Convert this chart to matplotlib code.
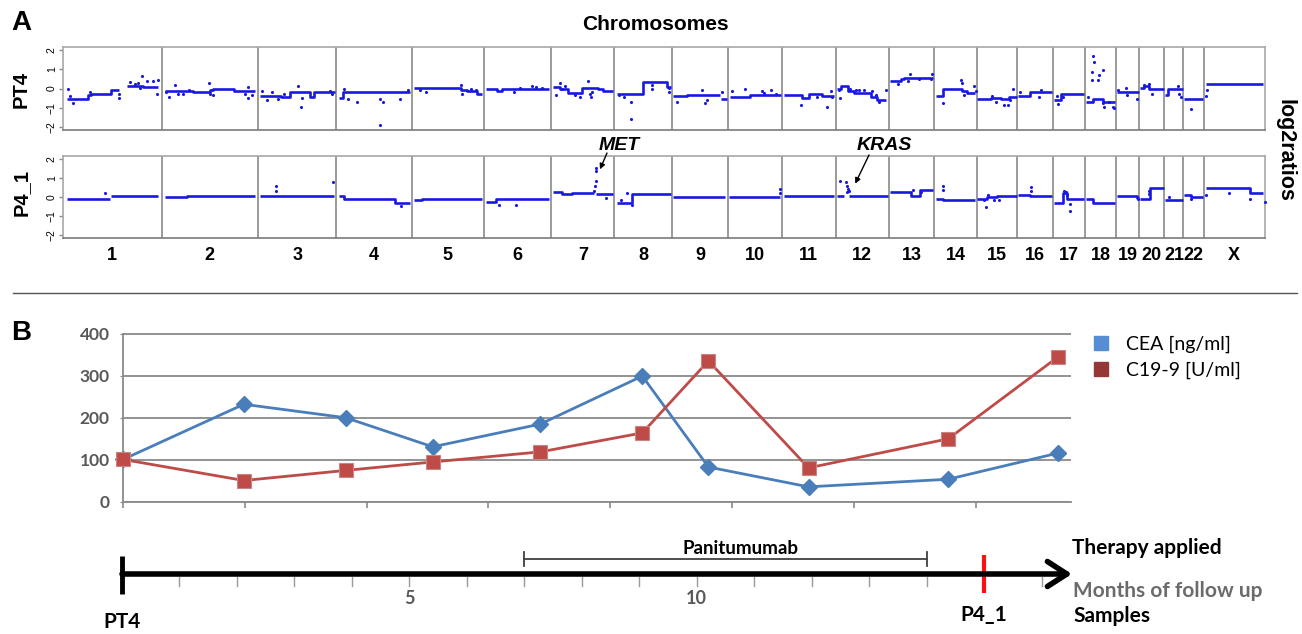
import numpy as np
import matplotlib
matplotlib.use("Agg")
import matplotlib.pyplot as plt
from matplotlib.lines import Line2D

# ---- panel A: chromosome sizes (Mb) and segmented log2 ratios ----
chrom_names = [str(i) for i in range(1, 23)] + ["X"]
chrom_len_mb = [249, 243, 198, 191, 181, 171, 159, 146, 141, 136, 135, 134,
                115, 107, 103, 90, 81, 78, 59, 63, 48, 51, 155]

# (chromosome, start fraction, end fraction, log2 ratio)
pt4_segments = [
    ("1", .04, .25, -.56), ("1", .25, .28, -.35), ("1", .28, .49, -.29), ("1", .49, .57, -.1),
    ("1", .65, .81, .12), ("1", .81, .96, .07),
    ("2", .03, .33, -.13), ("2", .33, .5, -.18), ("2", .5, .53, -.1), ("2", .53, .75, 0.0), ("2", .75, .97, -.12),
    ("3", .03, .3, -.37), ("3", .3, .41, -.42), ("3", .41, .67, -.2), ("3", .67, .71, -.42), ("3", .71, .98, -.2),
    ("4", .03, .09, -.48), ("4", .09, .97, -.2),
    ("5", .03, .68, .05), ("5", .68, .77, -.08), ("5", .77, .9, -.15), ("5", .9, .98, -.3),
    ("6", .03, .2, -.03), ("6", .2, .27, -.12), ("6", .27, .97, -.02),
    ("7", .03, .14, .1), ("7", .14, .27, -.05), ("7", .27, .49, -.25), ("7", .49, .74, .03),
    ("7", .74, .81, 0.0), ("7", .81, .98, -.15),
    ("8", .04, .5, -.26), ("8", .5, .91, .34), ("8", .91, .97, .1),
    ("9", .02, .26, -.38), ("9", .26, .85, -.34), ("9", .87, .98, -.55),
    ("10", .03, .4, -.42), ("10", .4, .98, -.36),
    ("11", .04, .38, -.34), ("11", .38, .5, -.5), ("11", .5, .75, -.3), ("11", .75, .98, -.4),
    ("12", .03, .1, -.05), ("12", .1, .23, .12), ("12", .23, .35, -.12), ("12", .35, .67, -.25),
    ("12", .67, .79, -.42), ("12", .79, .95, -.6),
    ("13", .04, .28, .4), ("13", .28, .34, .47), ("13", .34, .97, .56),
    ("14", .04, .2, -.38), ("14", .2, .65, -.05), ("14", .65, .78, -.12), ("14", .78, .97, -.22),
    ("15", .02, .35, -.56), ("15", .35, .6, -.48), ("15", .6, .8, -.56), ("15", .8, .98, -.43),
    ("16", .02, .34, -.38), ("16", .34, .98, -.19),
    ("17", .02, .25, -.6), ("17", .25, .98, -.27),
    ("18", .03, .25, -.68), ("18", .25, .57, -.55), ("18", .57, .97, -.7),
    ("19", .04, .98, -.17),
    ("20", .03, .2, .05), ("20", .2, .4, .12), ("20", .4, .97, 0.0),
    ("21", .05, .2, -.34), ("21", .2, .97, -.05),
    ("22", .03, .97, -.56),
    ("X", .04, .97, .22),
]
# (chromosome, fraction, log2 ratio)
pt4_points = [
    ("1", .05, -.05), ("1", .07, -.39), ("1", .10, -.77), ("1", .27, -.17), ("1", .57, -.31), ("1", .57, -.51),
    ("1", .68, .34), ("1", .73, .22), ("1", .76, .29), ("1", .80, .63), ("1", .85, .39), ("1", .91, .39),
    ("1", .96, .43), ("1", .95, -.26), ("1", .78, .05),
    ("2", .05, -.17), ("2", .08, -.43), ("2", .14, .17), ("2", .17, -.26), ("2", .22, -.31), ("2", .28, -.09),
    ("2", .49, .26), ("2", .50, -.26), ("2", .53, -.34), ("2", .9, .09), ("2", .9, -.51), ("2", .94, -.34),
    ("2", .87, -.31),
    ("3", .05, -.12), ("3", .11, -.6), ("3", .18, -.17), ("3", .26, -.55), ("3", .33, -.29), ("3", .51, .12),
    ("3", .55, -.94), ("3", .56, -.51), ("3", .92, -.12), ("3", .94, -.31),
    ("4", .1, -.02), ("4", .16, -.53), ("4", .27, -.68), ("4", .58, -.55), ("4", .58, -1.88), ("4", .62, -.72),
    ("4", .84, -.56), ("4", .95, -.09),
    ("5", .11, -.09), ("5", .2, -.2), ("5", .68, .17), ("5", .7, -.26), ("5", .82, -.05), ("5", .89, -.09),
    ("6", .44, -.17), ("6", .54, .05), ("6", .71, .12), ("6", .77, .09), ("6", .86, .05),
    ("7", .07, -.34), ("7", .14, .29), ("7", .17, -.05), ("7", .22, .12), ("7", .38, -.34), ("7", .46, -.46),
    ("7", .58, .38), ("7", .62, -.43), ("7", .61, -.26), ("7", .65, -.17),
    ("8", .08, -.34), ("8", .17, -.43), ("8", .28, -.68), ("8", .28, -1.59), ("8", .65, .17), ("8", .65, 0.0),
    ("8", .94, .05), ("8", .94, -.17),
    ("9", .08, -.68), ("9", .53, -.09), ("9", .62, -.6), ("9", .59, -.74), ("9", .89, -.17),
    ("10", .07, -.12), ("10", .32, -.05), ("10", .63, -.12), ("10", .66, -.22), ("10", .8, -.09), ("10", .88, -.31),
    ("11", .35, -.85), ("11", .66, -.43), ("11", .84, -.94), ("11", .91, -.12), ("11", .94, -.43),
    ("12", .06, -.09), ("12", .08, -.48), ("12", .28, 0.0), ("12", .38, -.09), ("12", .44, -.09), ("12", .54, -.09),
    ("12", .68, -.12), ("12", .76, -.34), ("12", .82, -.68), ("12", .95, -.09),
    ("13", .2, .22), ("13", .42, .38), ("13", .46, .77), ("13", .67, .48), ("13", .93, .48), ("13", .96, .74),
    ("14", .2, -.77), ("14", .63, .43), ("14", .66, .26), ("14", .7, -.34), ("14", .94, .12), ("14", .98, -.14),
    ("15", .39, -.39), ("15", .48, -.68), ("15", .68, -.85), ("15", .77, -.85), ("15", .89, 0.0), ("15", .81, -.6),
    ("16", .06, -.17), ("16", .62, -.46), ("16", .67, -.09),
    ("17", .12, -.39), ("17", .15, -.82), ("17", .3, -.43),
    ("18", .09, -.46), ("18", .22, .85), ("18", .23, .43), ("18", .27, 1.68), ("18", .28, 1.37), ("18", .43, .46),
    ("18", .46, .68), ("18", .59, .94), ("18", .57, -.77), ("18", .62, -.94), ("18", .78, -.68), ("18", .89, -.97),
    ("18", .95, -1.03),
    ("19", .07, -.09), ("19", .42, .05), ("19", .49, -.34), ("19", .89, -.56),
    ("20", .19, .17), ("20", .39, .22), ("20", .49, -.26),
    ("21", .74, .12), ("21", .78, -.26), ("21", .86, -.43),
    ("22", .37, -1.06),
    ("X", .04, -.39), ("X", .05, -.09),
]

p41_segments = [
    ("1", .04, .48, -.1), ("1", .49, .96, .07),
    ("2", .03, .26, -.02), ("2", .26, .53, .07), ("2", .53, .64, .04), ("2", .64, .97, .07),
    ("3", .03, .97, .04),
    ("4", .03, .1, .05), ("4", .1, .77, -.12), ("4", .77, .97, -.3),
    ("5", .03, .14, -.14), ("5", .14, .98, -.1),
    ("6", .03, .18, -.25), ("6", .18, .96, -.12),
    ("7", .03, .17, .26), ("7", .17, .33, .17), ("7", .33, .68, .2), ("7", .7, .98, .14),
    ("8", .04, .31, -.3), ("8", .31, .97, .17),
    ("9", .02, .95, 0.0),
    ("10", .02, .97, .02),
    ("11", .04, .97, .03),
    ("12", .03, .16, .05), ("12", .25, .98, .03),
    ("13", .04, .5, .26), ("13", .5, .68, .05), ("13", .68, .97, .38),
    ("14", .04, .2, -.08), ("14", .2, .97, -.14),
    ("15", .02, .25, -.08), ("15", .25, .5, -.02), ("15", .5, .98, .05),
    ("16", .02, .34, .08), ("16", .34, .98, .05),
    ("17", .02, .3, -.3), ("17", .3, .45, .2), ("17", .45, .98, -.12),
    ("18", .03, .25, -.12), ("18", .25, .97, -.3),
    ("19", .04, .9, .03), ("19", .9, .98, -.05),
    ("20", .03, .43, -.12), ("20", .43, .97, .48),
    ("21", .03, .97, -.14),
    ("22", .03, .37, .1), ("22", .37, .97, 0.0),
    ("X", .04, .76, .46), ("X", .76, .97, .2),
]
p41_points = [
    ("1", .43, .22),
    ("3", .23, .6), ("3", .23, .31), ("3", .96, .8),
    ("4", .86, -.46),
    ("6", .22, -.41), ("6", .47, -.41),
    ("7", .68, .34), ("7", .69, .6), ("7", .7, .85), ("7", .7, 1.37), ("7", .7, 1.54), ("7", .87, -.03),
    ("8", .11, -.14), ("8", .22, .21), ("8", .31, -.41),
    ("10", .96, .43), ("10", .96, .21),
    ("12", .09, .85), ("12", .19, .77), ("12", .21, .6), ("12", .23, .43), ("12", .22, .26), ("12", .25, .31),
    ("13", .53, .38), ("13", .71, .26),
    ("14", .2, .6), ("14", .2, .38),
    ("15", .18, -.17), ("15", .23, -.51), ("15", .27, .09), ("15", .43, -.14), ("15", .56, -.14),
    ("16", .39, .51), ("16", .39, .34),
    ("17", .33, .29), ("17", .4, .26), ("17", .44, .09), ("17", .54, -.38), ("17", .54, -.73),
    ("19", .92, -.09),
    ("20", .39, .17), ("20", .39, .31),
    ("21", .26, 0.0),
    ("22", .37, -.09),
    ("X", .04, .09), ("X", .41, .21), ("X", .76, -.09), ("X", 1.0, -.26),
]
gene_labels = [("MET", "7", 0.77, 1.45), ("KRAS", "12", 0.37, 0.70)]

# ---- panel B: tumour markers and follow-up ----
sample_days = [0, 64, 118, 164, 221, 275, 310, 363, 437, 495]
cea = [101, 232, 200, 131, 185, 299, 83, 36, 54, 116]
ca199 = [101, 51, 75, 95, 119, 164, 335, 81, 150, 344]
therapy = ("Panitumumab", 7, 14)          # months
samples = [("PT4", 0), ("P4_1", 15)]      # months
month_labels = [5, 10]
follow_up_end = 16.53

W, H = 1302, 634
BLUE = "#1818e0"
GRID = "#8a8a8a"
FA = "Liberation Sans"
FB = "Lato"


def fx(x):
    return x / W


def fy(y):
    return 1 - y / H


def box(x0, y0, x1, y1):
    return [fx(x0), fy(y1), fx(x1) - fx(x0), fy(y0) - fy(y1)]


offsets = np.concatenate([[0], np.cumsum(chrom_len_mb)])


def gpos(name, frac):
    i = chrom_names.index(name)
    return offsets[i] + frac * chrom_len_mb[i]


def draw_profile(ax, segments, points):
    runs = []
    last = None
    for name, f0, f1, v in segments:
        x0, x1 = gpos(name, f0), gpos(name, f1)
        if last == (name, f0):
            runs[-1][0].extend([x0, x1])
            runs[-1][1].extend([v, v])
        else:
            runs.append([[x0, x1], [v, v]])
        last = (name, f1)
    for xs, ys in runs:
        ax.plot(xs, ys, color=BLUE, lw=1.9, solid_capstyle="butt", zorder=3)
    ax.scatter([gpos(n, f) for n, f, v in points], [v for n, f, v in points],
               s=5, color=BLUE, linewidths=0, zorder=3, clip_on=False)
    for b in offsets[1:-1]:
        ax.axvline(b, color=GRID, lw=1.2, zorder=1)
    ax.set_xlim(0, offsets[-1])
    ax.set_ylim(-2.15, 2.15)
    ax.set_yticks([-2, -1, 0, 1, 2])
    ax.tick_params(axis="y", length=3, width=1, color=GRID, pad=1.5, labelsize=7.5)
    for lab in ax.get_yticklabels():
        lab.set_rotation(90)
        lab.set_va("center")
        lab.set_family(FA)
    for sp in ax.spines.values():
        sp.set_color("#a8a8a8")
        sp.set_linewidth(1.2)
    ax.spines["bottom"].set_color("#7a7a7a")


fig = plt.figure(figsize=(W / 100, H / 100), dpi=100)

ax1 = fig.add_axes(box(63, 47, 1265, 130))
draw_profile(ax1, pt4_segments, pt4_points)
ax1.set_xticks([])

ax2 = fig.add_axes(box(63, 156, 1265, 238))
draw_profile(ax2, p41_segments, p41_points)
mids = (offsets[:-1] + offsets[1:]) / 2
ax2.set_xticks(mids)
ax2.set_xticklabels(chrom_names, fontfamily=FA, fontweight="bold", fontsize=13)
ax2.tick_params(axis="x", length=0, pad=6.5)

text_pos = {"MET": (619, 146, 607, 153), "KRAS": (884, 146, 869, 155)}
for gene, chrom, frac, val in gene_labels:
    tx, ty, ax0, ay0 = text_pos[gene]
    fig.text(fx(tx), fy(ty), gene, ha="center", va="center", fontsize=14,
             fontfamily=FA, fontweight="bold", fontstyle="italic")
    ax2.annotate("", xy=(gpos(chrom, frac), val), xycoords="data",
                 xytext=(ax0, H - ay0), textcoords="figure pixels",
                 arrowprops=dict(arrowstyle="-|>", color="black", lw=1, mutation_scale=8,
                                 shrinkA=0, shrinkB=0), annotation_clip=False)

fig.text(fx(21), fy(23), "A", fontsize=20, fontweight="bold", fontfamily=FA, ha="center", va="center")
fig.text(fx(655), fy(25), "Chromosomes", fontsize=15, fontweight="bold", fontfamily=FA, ha="center", va="center")
fig.text(fx(21), fy(90), "PT4", fontsize=14.5, fontweight="bold", fontfamily=FA, rotation=90, ha="center", va="center")
fig.text(fx(21), fy(192), "P4_1", fontsize=14.5, fontweight="bold", fontfamily=FA, rotation=90, ha="center", va="center")
fig.text(fx(1285), fy(150), "log2ratios", fontsize=15.5, fontweight="bold", fontfamily=FA, rotation=270,
         ha="center", va="center")

# separator line
fig.add_artist(Line2D([fx(13), fx(1297)], [fy(293), fy(293)], color="#555555", lw=1))

# ---- panel B chart ----
axb = fig.add_axes(box(123, 333.5, 1071, 502))
axb.plot(sample_days, cea, color="#4a7ebb", lw=2, marker="D", markersize=8,
         markerfacecolor="#4a7ebb", markeredgecolor="#4a7ebb", clip_on=False, zorder=4)
axb.plot(sample_days, ca199, color="#be4b48", lw=2, marker="s", markersize=9.5,
         markerfacecolor="#be4b48", markeredgecolor="#c98584", markeredgewidth=0.8, clip_on=False, zorder=4)
axb.set_xlim(0, 502)
axb.set_ylim(0, 400)
axb.set_yticks([0, 100, 200, 300, 400])
axb.set_xticks(np.arange(0, 500, 64.5))
axb.set_xticklabels([])
axb.yaxis.grid(True, color=GRID, lw=1.3)
axb.set_axisbelow(True)
for s in ["top", "right"]:
    axb.spines[s].set_visible(False)
for s in ["left", "bottom"]:
    axb.spines[s].set_color(GRID)
    axb.spines[s].set_linewidth(1.3)
axb.tick_params(axis="y", length=2, color=GRID, pad=7.5, labelsize=12.5, labelcolor="#595959")
axb.tick_params(axis="x", length=4, color=GRID, width=1.2)
for lab in axb.get_yticklabels():
    lab.set_family(FB)
    lab.set_fontweight("bold")

handles = [Line2D([], [], ls="", marker="s", markersize=10, color="#558ed5"),
           Line2D([], [], ls="", marker="s", markersize=10, color="#953735")]
fig.legend(handles, ["CEA [ng/ml]", "C19-9 [U/ml]"], loc="upper left",
           bbox_to_anchor=(fx(1093), fy(336)), frameon=False, handlelength=0.8,
           handletextpad=0.9, labelspacing=0.45, borderpad=0, borderaxespad=0,
           prop={"family": FB, "size": 14})

fig.text(fx(21), fy(333), "B", fontsize=20, fontweight="bold", fontfamily=FA, ha="center", va="center")

# ---- timeline (months) ----
pxm = 57.47
axt = fig.add_axes([0, 0, 1, 1])
axt.set_xlim(-122 / pxm, (W - 122) / pxm)
axt.set_ylim(H, 0)
axt.axis("off")

y0 = 574
axt.annotate("", xy=(follow_up_end, y0), xytext=(0, y0),
             arrowprops=dict(arrowstyle="->,head_length=0.7,head_width=0.45", lw=4,
                             color="black", mutation_scale=20, shrinkA=0, shrinkB=0))
axt.plot([0, 0], [556, 594], color="black", lw=3.5, solid_capstyle="butt")
for m in range(1, 17):
    if m in [s[1] for s in samples]:
        continue
    axt.plot([m, m], [577, 586], color="#9a9a9a", lw=1)
for m in month_labels:
    axt.text(m, 599, str(m), ha="center", va="center", fontsize=13, fontfamily=FB,
             fontweight="bold", color="#595959")

name, t0, t1 = therapy
axt.plot([t0, t1], [559, 559], color="#404040", lw=1.3)
for t in (t0, t1):
    axt.plot([t, t], [552, 566], color="#404040", lw=1.3)
axt.text(741 / pxm - 122 / pxm, 548, name, ha="center", va="center", fontsize=13.5,
         fontfamily=FB, fontweight="bold")

for label, m in samples:
    if m > 0:
        axt.plot([m, m], [555, 593], color="#ff1010", lw=3, solid_capstyle="butt")
    axt.text(m, 622 if m == 0 else 615, label, ha="center", va="center", fontsize=15,
             fontfamily=FB, fontweight="bold")

fig.text(fx(1072), fy(548), "Therapy applied", fontsize=15, fontfamily=FB, fontweight="bold", va="center")
fig.text(fx(1073), fy(591), "Months of follow up", fontsize=15, fontfamily=FB, fontweight="bold",
         color="#6b6b6b", va="center")
fig.text(fx(1073), fy(616), "Samples", fontsize=15, fontfamily=FB, fontweight="bold", va="center")

fig.savefig("out.png", dpi=100)
